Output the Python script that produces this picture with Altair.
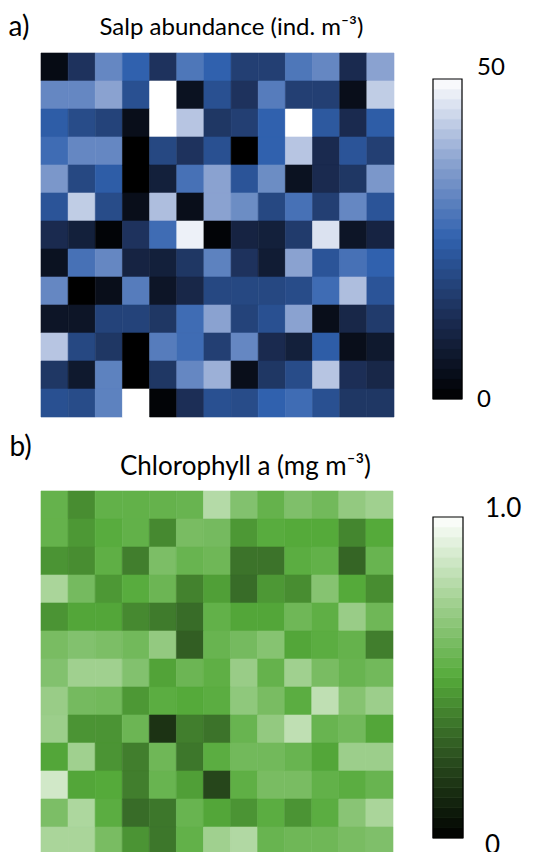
import altair as alt
import pandas as pd
import numpy as np

FONT = "Lato"

# ---- a) Salp abundance (ind. m-3), 13 x 13 cells, top row first ----
salp_r01 = [3, 14, 32, 25, 14, 29, 25, 17, 17, 29, 32, 12, 37]
salp_r02 = [32, 32, 37, 21, 50, 5, 21, 14, 30, 17, 17, 4, 43]
salp_r03 = [24, 20, 18, 4, 50, 42, 15, 17, 25, 50, 23, 12, 24]
salp_r04 = [27, 32, 32, 0, 19, 14, 21, 0, 25, 42, 12, 22, 17]
salp_r05 = [35, 19, 24, 0, 9, 28, 37, 22, 33, 5, 12, 15, 35]
salp_r06 = [22, 43, 20, 4, 41, 4, 37, 33, 19, 28, 17, 32, 22]
salp_r07 = [12, 9, 1, 14, 27, 48, 1, 10, 9, 16, 46, 6, 10]
salp_r08 = [5, 28, 32, 10, 9, 15, 31, 14, 8, 37, 22, 28, 25]
salp_r09 = [32, 0, 4, 30, 6, 11, 19, 19, 19, 20, 27, 41, 22]
salp_r10 = [6, 6, 18, 18, 15, 27, 37, 18, 21, 37, 4, 11, 16]
salp_r11 = [42, 19, 15, 0, 30, 27, 17, 32, 12, 9, 24, 4, 7]
salp_r12 = [15, 7, 31, 0, 15, 32, 39, 4, 15, 20, 42, 13, 11]
salp_r13 = [21, 20, 31, 50, 1, 13, 21, 20, 25, 27, 21, 15, 15]
salp_rows = [salp_r01, salp_r02, salp_r03, salp_r04, salp_r05, salp_r06, salp_r07,
             salp_r08, salp_r09, salp_r10, salp_r11, salp_r12, salp_r13]

# ---- b) Chlorophyll a (mg m-3), 13 x 13 cells, top row first ----
chl_r01 = [0.55, 0.42, 0.54, 0.54, 0.55, 0.56, 0.79, 0.64, 0.55, 0.63, 0.59, 0.69, 0.73]
chl_r02 = [0.55, 0.45, 0.51, 0.54, 0.41, 0.61, 0.60, 0.45, 0.51, 0.50, 0.50, 0.40, 0.50]
chl_r03 = [0.44, 0.42, 0.53, 0.38, 0.62, 0.56, 0.58, 0.35, 0.35, 0.52, 0.54, 0.31, 0.56]
chl_r04 = [0.76, 0.60, 0.45, 0.51, 0.57, 0.39, 0.47, 0.33, 0.45, 0.42, 0.65, 0.50, 0.42]
chl_r05 = [0.44, 0.49, 0.49, 0.41, 0.37, 0.33, 0.54, 0.49, 0.49, 0.58, 0.53, 0.71, 0.58]
chl_r06 = [0.61, 0.64, 0.62, 0.59, 0.69, 0.29, 0.56, 0.60, 0.65, 0.49, 0.52, 0.55, 0.38]
chl_r07 = [0.64, 0.73, 0.73, 0.64, 0.48, 0.57, 0.53, 0.71, 0.55, 0.73, 0.61, 0.56, 0.59]
chl_r08 = [0.71, 0.60, 0.59, 0.45, 0.52, 0.50, 0.52, 0.68, 0.61, 0.52, 0.82, 0.65, 0.72]
chl_r09 = [0.72, 0.44, 0.44, 0.57, 0.16, 0.38, 0.35, 0.56, 0.69, 0.82, 0.56, 0.59, 0.49]
chl_r10 = [0.49, 0.73, 0.44, 0.38, 0.58, 0.36, 0.52, 0.59, 0.59, 0.56, 0.49, 0.72, 0.72]
chl_r11 = [0.87, 0.49, 0.50, 0.38, 0.56, 0.47, 0.22, 0.53, 0.61, 0.61, 0.54, 0.52, 0.56]
chl_r12 = [0.62, 0.77, 0.52, 0.33, 0.36, 0.56, 0.49, 0.44, 0.52, 0.44, 0.52, 0.66, 0.76]
chl_r13 = [0.76, 0.76, 0.61, 0.44, 0.36, 0.54, 0.73, 0.78, 0.56, 0.58, 0.58, 0.61, 0.63]
chl_rows = [chl_r01, chl_r02, chl_r03, chl_r04, chl_r05, chl_r06, chl_r07,
            chl_r08, chl_r09, chl_r10, chl_r11, chl_r12, chl_r13]

salp_max = 50
chl_max = 1.0
salp_tick_labels = ["0", "50"]
chl_tick_labels = ["0", "1.0"]

salp_colors = ["#000000", "#1b2c52", "#3061ae", "#8ea5d1", "#ffffff"]
chl_colors = ["#000000", "#2b4f1f", "#55aa3a", "#a6d396", "#ffffff"]


def grid_df(rows):
    recs = []
    for i, row in enumerate(rows):
        for j, v in enumerate(row):
            recs.append({"row": i + 1, "col": j + 1, "value": v})
    return pd.DataFrame(recs)


def color_scale(vmax, colors):
    return alt.Scale(domain=[float(d) for d in np.linspace(0, vmax, len(colors))],
                     range=colors, interpolate="rgb")


def heatmap(rows, vmax, colors, label, title, w, h, title_x, title_y,
            label_x, label_y, title_size, label_size):
    df = grid_df(rows)
    cs = color_scale(vmax, colors)
    return alt.Chart(df).mark_rect(strokeWidth=0.6).encode(
        x=alt.X("col:O", scale=alt.Scale(paddingInner=0, paddingOuter=0),
                axis=alt.Axis(orient="top", labels=False, ticks=False, domain=False,
                              grid=False, title=title, titleFont=FONT,
                              titleFontSize=title_size, titleFontWeight="normal",
                              titleColor="black", titleX=title_x, titleY=title_y,
                              titleBaseline="alphabetic", titleAlign="center")),
        y=alt.Y("row:O", scale=alt.Scale(paddingInner=0, paddingOuter=0),
                axis=alt.Axis(orient="left", labels=False, ticks=False, domain=False,
                              grid=False, title=label, titleAngle=0, titleX=label_x,
                              titleY=label_y, titleAlign="left",
                              titleBaseline="alphabetic", titleFont=FONT,
                              titleFontSize=label_size, titleFontWeight="normal",
                              titleColor="black")),
        color=alt.Color("value:Q", scale=cs, legend=None),
        stroke=alt.Stroke("value:Q", scale=cs, legend=None),
    ).properties(width=w, height=h)


def colorbar(vmax, colors, tick_labels, w, h, top, bottom, label_dx, label_size,
             dy_low, dy_high):
    edges = np.linspace(0, vmax, 33)
    steps = pd.DataFrame({"x0": 0.0, "x1": 1.0, "y0": edges[:-1], "y1": edges[1:],
                          "c": (edges[:-1] + edges[1:]) / 2})
    cs = color_scale(vmax, colors)
    xs = alt.Scale(domain=[0, 1], nice=False, zero=False)
    ys = alt.Scale(domain=[0, vmax], range=[bottom, top], nice=False, zero=False)
    bars = alt.Chart(steps).mark_rect(strokeWidth=0.6).encode(
        x=alt.X("x0:Q", scale=xs, axis=None), x2="x1:Q",
        y=alt.Y("y0:Q", scale=ys, axis=None), y2="y1:Q",
        color=alt.Color("c:Q", scale=cs, legend=None),
        stroke=alt.Stroke("c:Q", scale=cs, legend=None),
    )
    frame = alt.Chart(pd.DataFrame({"x0": [0.0], "x1": [1.0], "y0": [0.0], "y1": [vmax]})).mark_rect(
        fillOpacity=0, stroke="black", strokeWidth=1.2
    ).encode(
        x=alt.X("x0:Q", scale=xs, axis=None), x2="x1:Q",
        y=alt.Y("y0:Q", scale=ys, axis=None), y2="y1:Q",
    )
    low = alt.Chart(pd.DataFrame({"x": [1.0], "v": [0.0], "t": [tick_labels[0]]})).mark_text(
        align="left", baseline="middle", dx=label_dx, dy=dy_low, font=FONT,
        fontSize=label_size, color="black"
    ).encode(x=alt.X("x:Q", scale=xs, axis=None), y=alt.Y("v:Q", scale=ys, axis=None), text="t:N")
    high = alt.Chart(pd.DataFrame({"x": [1.0], "v": [float(vmax)], "t": [tick_labels[1]]})).mark_text(
        align="left", baseline="middle", dx=label_dx, dy=dy_high, font=FONT,
        fontSize=label_size, color="black"
    ).encode(x=alt.X("x:Q", scale=xs, axis=None), y=alt.Y("v:Q", scale=ys, axis=None), text="t:N")
    return alt.layer(bars, frame, low, high).properties(width=w, height=h)


heat_a = heatmap(salp_rows, salp_max, salp_colors, "a)", "Salp abundance (ind. m⁻³)",
                 353, 364, 190, -19, -33, -18, 24, 28)
bar_a = colorbar(salp_max, salp_colors, salp_tick_labels, 29, 364, 26, 346, 15, 24, 1, -11)

heat_b = heatmap(chl_rows, chl_max, chl_colors, "b)", "Chlorophyll a (mg m⁻³)",
                 352, 364, 204, -17, -32, -36, 26, 28)
bar_b = colorbar(chl_max, chl_colors, chl_tick_labels, 30, 364, 26, 347, 22, 26, 8, -8)

row_a = alt.hconcat(heat_a, bar_a, spacing=37).resolve_scale(color="independent", stroke="independent")
row_b = alt.hconcat(heat_b, bar_b, spacing=38).resolve_scale(color="independent", stroke="independent")

chart = alt.vconcat(row_a, row_b, spacing=15).resolve_scale(
    color="independent", stroke="independent"
).properties(
    padding={"top": 5, "left": 0, "right": 0, "bottom": 0},
    background="white",
).configure_view(stroke=None)

chart.save("out.html", embed_options={"renderer": "svg", "actions": False})
